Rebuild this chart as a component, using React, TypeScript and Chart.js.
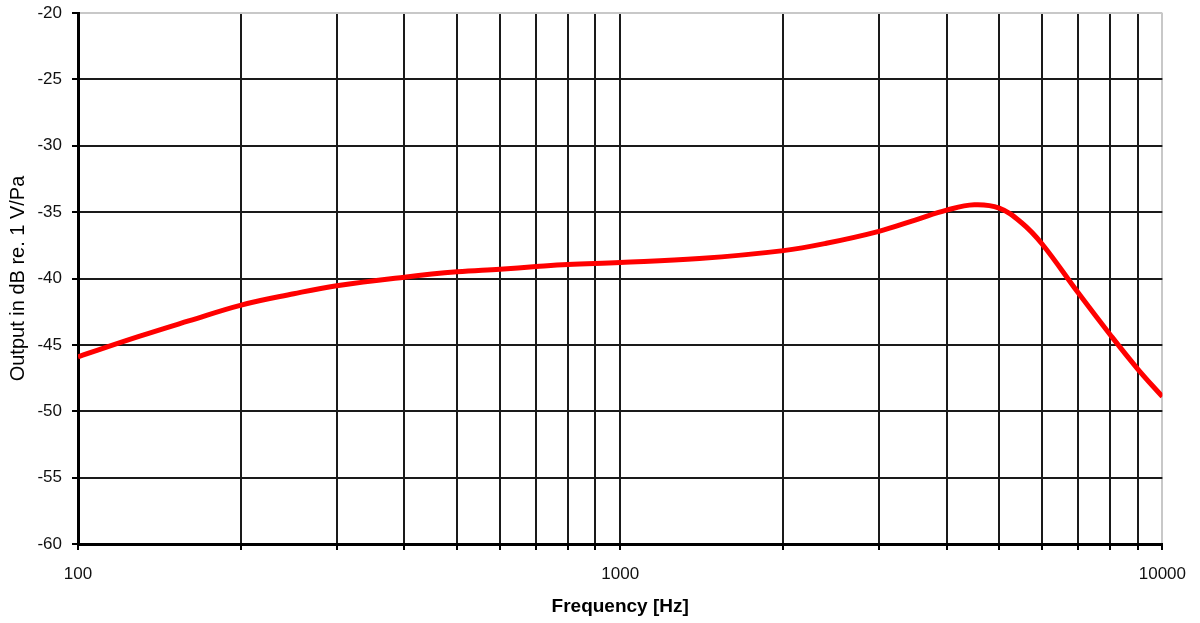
import React, { useEffect, useRef } from "react";
import { Chart, registerables } from "chart.js";

Chart.register(...registerables);

const frequencies = [100, 130, 160, 200, 250, 300, 400, 500, 600, 700, 800, 1000, 1400, 2000, 2400, 3000, 3500, 4000, 4500, 5000, 5500, 6000, 7000, 8000, 9000, 10000];
const outputDb = [-45.9, -44.35, -43.2, -42.0, -41.15, -40.55, -39.9, -39.5, -39.3, -39.1, -38.95, -38.8, -38.5, -37.9, -37.35, -36.45, -35.6, -34.85, -34.45, -34.7, -35.8, -37.4, -41.1, -44.2, -46.8, -48.9];
const xGridValues = [100, 200, 300, 400, 500, 600, 700, 800, 900, 1000, 2000, 3000, 4000, 5000, 6000, 7000, 8000, 9000, 10000];
const xLabelValues = [100, 1000, 10000];
const yMin = -60;
const yMax = -20;
const yStep = 5;
const xTitle = "Frequency [Hz]";
const yTitle = "Output in dB re. 1 V/Pa";

export default function App() {
  const ref = useRef<HTMLCanvasElement | null>(null);
  useEffect(() => {
    if (!ref.current) return;
    const chart = new Chart(ref.current, {
      type: "line",
      data: {
        datasets: [
          {
            data: frequencies.map((f, i) => ({ x: f, y: outputDb[i] })),
            borderColor: "#ff0000",
            borderWidth: 5,
            pointRadius: 0,
            tension: 0.4,
            fill: false,
          },
        ],
      },
      options: {
        responsive: false,
        animation: false,
        layout: { padding: { top: 13, right: 37, bottom: 0, left: 0 } },
        plugins: { legend: { display: false }, tooltip: { enabled: false } },
        scales: {
          x: {
            type: "logarithmic",
            min: 100,
            max: 10000,
            afterBuildTicks: (s: any) => {
              s.ticks = xGridValues.map((v) => ({ value: v }));
            },
            afterFit: (s: any) => {
              s.height = 79;
            },
            ticks: {
              autoSkip: false,
              maxRotation: 0,
              padding: 14,
              color: "#111",
              font: { family: "'Liberation Sans', Arial, sans-serif", size: 17 },
              callback: (v: any) => (xLabelValues.includes(Number(v)) ? String(v) : ""),
            },
            grid: {
              color: (c: any) => (c.tick && c.tick.value === 10000 ? "#c8c8c8" : "#1a1a1a"),
              lineWidth: 2,
              tickLength: 6,
              tickColor: "#000",
            },
            border: { color: "#000", width: 3 },
            title: {
              display: true,
              text: xTitle,
              color: "#000",
              font: { family: "'Liberation Sans', Arial, sans-serif", size: 19, weight: "bold" },
              padding: { top: 0, bottom: 5 },
            },
          },
          y: {
            min: yMin,
            max: yMax,
            afterFit: (s: any) => {
              s.width = 78;
              s.paddingTop = 0;
              s.paddingBottom = 0;
            },
            ticks: {
              stepSize: yStep,
              padding: 10,
              color: "#111",
              font: { family: "'Liberation Sans', Arial, sans-serif", size: 17 },
            },
            grid: {
              color: (c: any) => (c.tick && c.tick.value === yMax ? "#c8c8c8" : "#1a1a1a"),
              lineWidth: 2,
              tickLength: 6,
              tickColor: "#000",
            },
            border: { color: "#000", width: 3 },
            title: {
              display: true,
              text: yTitle,
              color: "#000",
              font: { family: "'Liberation Sans', Arial, sans-serif", size: 20 },
              padding: { top: 6, bottom: 0 },
            },
          },
        },
      },
    } as any);
    return () => chart.destroy();
  }, []);
  return (
    <div style={{ position: "fixed", left: 0, top: 0, width: 1200, height: 623, background: "#fff" }}>
      <canvas ref={ref} width={1200} height={623} style={{ display: "block" }} />
    </div>
  );
}
